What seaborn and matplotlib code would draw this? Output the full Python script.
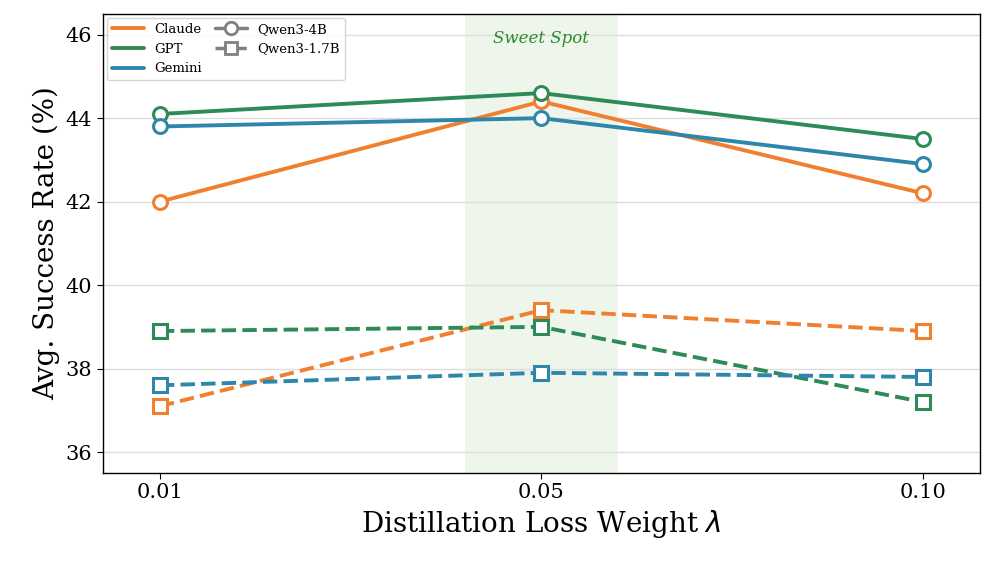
import matplotlib
matplotlib.use("Agg")
import matplotlib.pyplot as plt
import seaborn as sns
import pandas as pd
from matplotlib.lines import Line2D

lambdas = ["0.01", "0.05", "0.10"]
models = ["Claude", "GPT", "Gemini"]
qwen4b = {"Claude": [42.0, 44.4, 42.2], "GPT": [44.1, 44.6, 43.5], "Gemini": [43.8, 44.0, 42.9]}
qwen17b = {"Claude": [37.1, 39.4, 38.9], "GPT": [38.9, 39.0, 37.2], "Gemini": [37.6, 37.9, 37.8]}
colors = {"Claude": "#F0802F", "GPT": "#2E8B57", "Gemini": "#2E86AB"}

sns.set_style("white")
plt.rcParams["font.family"] = ["DejaVu Serif"]
plt.rcParams["text.color"] = "black"
plt.rcParams["axes.labelcolor"] = "black"
plt.rcParams["xtick.color"] = "black"
plt.rcParams["ytick.color"] = "black"

fig, ax = plt.subplots(figsize=(9.97, 5.74), dpi=100)
ax.axvspan(0.8, 1.2, color="#e8f3e4", alpha=0.7, zorder=0, lw=0)
ax.text(1.0, 45.9, "Sweet Spot", style="italic", color="#2a8a2a", ha="center", va="center", fontsize=12)

xs = list(range(len(lambdas)))
for m in models:
    for vals, mk, ls in [(qwen4b[m], "o", "-"), (qwen17b[m], "s", "--")]:
        df = pd.DataFrame({"x": xs, "y": vals})
        sns.lineplot(data=df, x="x", y="y", ax=ax, color=colors[m], linestyle=ls, lw=2.8,
                     marker=mk, markersize=10, markerfacecolor="white", markeredgewidth=2.2,
                     markeredgecolor=colors[m], zorder=3)

ax.set_xticks(xs)
ax.set_xticklabels(lambdas, fontsize=15)
ax.set_yticks([36, 38, 40, 42, 44, 46])
ax.tick_params(axis="y", labelsize=15, left=True, length=4)
ax.tick_params(axis="x", bottom=True, length=4)
ax.set_xlim(-0.15, 2.15)
ax.set_ylim(35.5, 46.5)
ax.grid(axis="y", color="#dddddd", lw=1)
ax.set_axisbelow(True)
for s in ax.spines.values():
    s.set_color("black"); s.set_linewidth(1)
ax.set_xlabel(r"Distillation Loss Weight $\lambda$", fontsize=20)
ax.set_ylabel("Avg. Success Rate (%)", fontsize=20)

handles = [Line2D([], [], color=colors[m], lw=2.8, label=m) for m in models]
handles += [Line2D([], [], color="gray", lw=2.5, marker="o", mfc="white", mec="gray", mew=2, ms=9, label="Qwen3-4B"),
            Line2D([], [], color="gray", lw=2.5, ls="--", marker="s", mfc="white", mec="gray", mew=2, ms=9, label="Qwen3-1.7B"),
            Line2D([], [], alpha=0, label=" ")]
ax.legend(handles=handles, ncol=2, loc="upper left", fontsize=9.5, frameon=True,
          handlelength=2.4, columnspacing=1.0, borderaxespad=0.3)

fig.subplots_adjust(left=0.103, right=0.983, top=0.976, bottom=0.176)
fig.savefig("out.png")
